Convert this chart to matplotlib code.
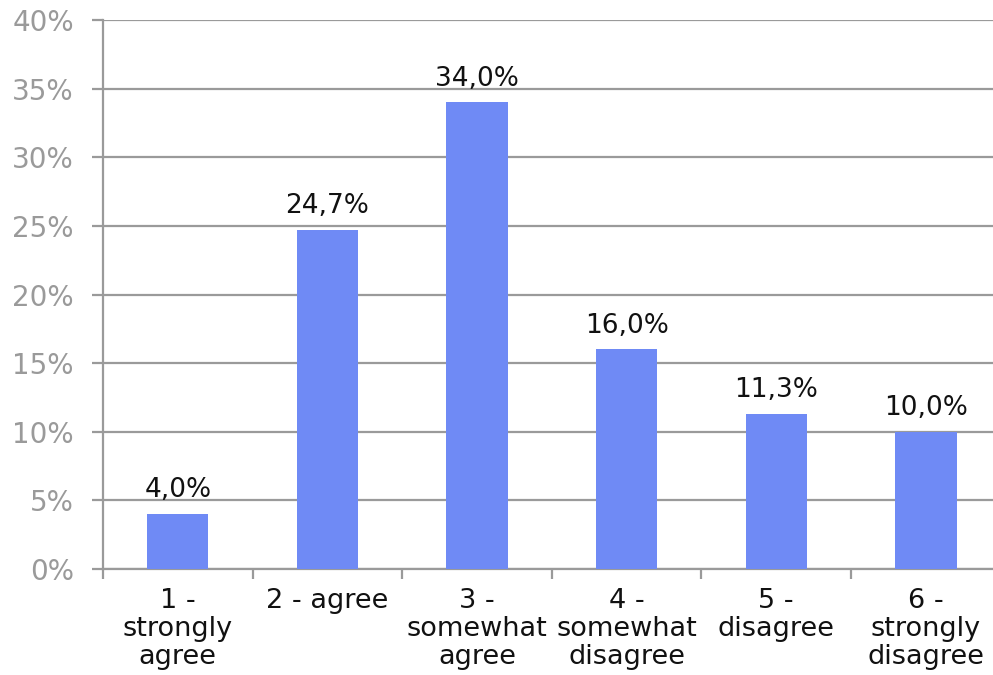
import numpy as np
import matplotlib.pyplot as plt
from matplotlib.ticker import FuncFormatter

# Survey answers and share of respondents (%)
categories = ["1 -\nstrongly\nagree", "2 - agree", "3 -\nsomewhat\nagree",
              "4 -\nsomewhat\ndisagree", "5 -\ndisagree", "6 -\nstrongly\ndisagree"]
shares = [4.0, 24.7, 34.0, 16.0, 11.3, 10.0]
y_ticks = [0, 5, 10, 15, 20, 25, 30, 35, 40]

plt.rcParams["font.family"] = ["DejaVu Sans"]

BAR_COLOR = "#6f8af5"
GRID_COLOR = "#9a9a9a"

fig = plt.figure(figsize=(9.93, 6.75), dpi=100)
ax = fig.add_axes([0.1037, 0.157, 0.904, 0.8134])

x = np.arange(len(categories))
ax.bar(x, shares, width=0.41, color=BAR_COLOR, zorder=3)

for xi, v in zip(x, shares):
    ax.annotate(f"{v:.1f}%".replace(".", ","), (xi, v), xytext=(0, 12),
                textcoords="offset points", ha="center", va="baseline",
                fontsize=19, color="#111111")

ax.set_xlim(-0.5, len(categories) - 0.5)
ax.set_ylim(0, 40)
ax.set_yticks(y_ticks)
ax.yaxis.set_major_formatter(FuncFormatter(lambda v, _: f"{v:.0f}%"))
ax.yaxis.grid(True, color=GRID_COLOR, linewidth=1.6, zorder=0)

# category labels centred under bars, tick marks on the boundaries
ax.set_xticks(x)
ax.set_xticklabels(categories, fontsize=19.5, linespacing=1.08, color="#111111")
ax.set_xticks(np.arange(len(categories) + 1) - 0.5, minor=True)
ax.tick_params(axis="x", which="major", length=0, pad=14)
ax.tick_params(axis="x", which="minor", length=7, width=1.6, color=GRID_COLOR)
ax.tick_params(axis="y", length=8, width=1.6, color=GRID_COLOR,
               labelcolor="#9a9a9a", labelsize=20, pad=13)

for side in ("top", "right"):
    ax.spines[side].set_visible(False)
for side in ("left", "bottom"):
    ax.spines[side].set_color(GRID_COLOR)
    ax.spines[side].set_linewidth(1.6)

fig.savefig("out.png", dpi=100)
